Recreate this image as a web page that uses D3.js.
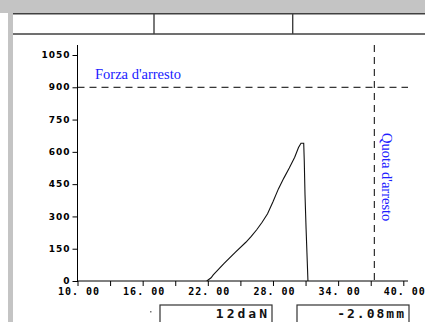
<!DOCTYPE html>
<html><head><meta charset="utf-8">
<script src="https://cdn.jsdelivr.net/npm/d3@7"></script>
<style>
html,body{margin:0;padding:0;background:#fff;}
svg{display:block;}
</style></head>
<body>
<script>
// ---- data ----
const curveX = [21.9, 22.3, 22.5, 23.5, 24.5, 25.5, 26.0, 26.5, 27.0, 27.5, 28.0, 28.5, 29.0, 29.5, 30.0, 30.35, 30.58, 30.83, 30.88, 30.95, 31.05, 31.22];
const curveY = [0, 15, 28, 82, 132, 180, 207, 238, 273, 312, 368, 428, 478, 525, 575, 620, 640, 640, 560, 400, 240, 0];
const yTicks = [0, 150, 300, 450, 600, 750, 900, 1050];
const xTicks = [10, 13, 16, 19, 22, 25, 28, 31, 34, 37, 40];
const xLabels = [10, 16, 22, 28, 34, 40];
const stopForce = 900;
const stopPos = 37.33;
const forceLabel = "Forza d'arresto";
const posLabel = "Quota d'arresto";
const readouts = ["12daN", "-2.08mm"];

const W = 425, H = 322;
const svg = d3.select("body").append("svg").attr("width", W).attr("height", H);

// frame
svg.append("rect").attr("x", 0).attr("y", 0).attr("width", W).attr("height", 13).attr("fill", "#c4c4c4");
svg.append("rect").attr("x", 8).attr("y", 0).attr("width", 5).attr("height", H).attr("fill", "#c4c4c4");

// header table
const hdr = svg.append("g").attr("stroke", "#404040").attr("stroke-width", 1.4).attr("fill", "none");
hdr.append("line").attr("x1", 13).attr("x2", W).attr("y1", 13.7).attr("y2", 13.7);
hdr.append("line").attr("x1", 13).attr("x2", W).attr("y1", 34).attr("y2", 34);
hdr.append("line").attr("x1", 154).attr("x2", 154).attr("y1", 13.7).attr("y2", 34);
hdr.append("line").attr("x1", 292.7).attr("x2", 292.7).attr("y1", 13.7).attr("y2", 34);

// scales
const x = d3.scaleLinear().domain([10, 40]).range([77.5, 403.3]);
const y = d3.scaleLinear().domain([0, 1050]).range([281, 55]);

// axes
const yAxis = d3.axisLeft(y).tickValues(yTicks).tickSize(5).tickPadding(4).tickFormat(d3.format("d"));
const gy = svg.append("g").attr("transform", `translate(${x(10)},0)`).call(yAxis);
gy.select(".domain").attr("d", `M0,${y(0) + 1}V45`).attr("stroke", "#000");
gy.selectAll("text").attr("font-family", "DejaVu Sans").attr("font-weight", "bold")
  .attr("font-size", 9).attr("letter-spacing", "1px").attr("fill", "#000").attr("dx", "2").attr("dy", "0.3em");

const xAxis = d3.axisBottom(x).tickValues(xTicks).tickSize(5).tickPadding(2)
  .tickFormat(d => xLabels.includes(d) ? d.toFixed(2).replace(".", ". ") : "");
const gx = svg.append("g").attr("transform", `translate(0,${y(0)})`).call(xAxis);
gx.select(".domain").attr("d", `M${x(10)},0H408`).attr("stroke", "#000");
gx.selectAll("text").attr("font-family", "DejaVu Sans Mono").attr("font-weight", "bold")
  .attr("font-size", 10).attr("letter-spacing", "1px").attr("fill", "#000").attr("dx", "1").attr("dy", "0.68em")
  .style("white-space", "pre");

// dashed stop lines
svg.append("line").attr("x1", x(10)).attr("x2", 408).attr("y1", y(stopForce)).attr("y2", y(stopForce))
  .attr("stroke", "#000").attr("stroke-dasharray", "7,5");
svg.append("line").attr("x1", x(stopPos)).attr("x2", x(stopPos)).attr("y1", 45).attr("y2", y(0))
  .attr("stroke", "#000").attr("stroke-dasharray", "7,5");

svg.append("text").attr("x", 95).attr("y", y(stopForce) - 8).text(forceLabel)
  .attr("font-family", "Liberation Serif").attr("font-size", 14.5).attr("fill", "#2020ff");
svg.append("text").attr("transform", `translate(${x(stopPos) + 8},133) rotate(90)`).text(posLabel)
  .attr("font-family", "Liberation Serif").attr("font-size", 14.5).attr("fill", "#2020ff");

// curve
const pts = curveX.map((v, i) => [v, curveY[i]]);
svg.append("path").datum(pts)
  .attr("d", d3.line().x(d => x(d[0])).y(d => y(d[1])))
  .attr("fill", "none").attr("stroke", "#111").attr("stroke-width", 1.1);

// readout boxes
const boxes = [{x0: 160, x1: 272, ls: 3}, {x0: 297, x1: 409, ls: 2}];
boxes.forEach((b, i) => {
  svg.append("rect").attr("x", b.x0).attr("y", 305).attr("width", b.x1 - b.x0).attr("height", 30)
    .attr("fill", "none").attr("stroke", "#333").attr("stroke-width", 1.2);
  svg.append("text").attr("x", b.x1 - 5 + b.ls).attr("y", 318).attr("text-anchor", "end")
    .attr("font-family", "DejaVu Sans Mono").attr("font-weight", "bold").attr("font-size", 13)
    .attr("letter-spacing", b.ls + "px").attr("fill", "#111").text(readouts[i]);
});
svg.append("rect").attr("x", 150).attr("y", 311).attr("width", 1.5).attr("height", 1.5).attr("fill", "#777");
</script>
</body></html>
